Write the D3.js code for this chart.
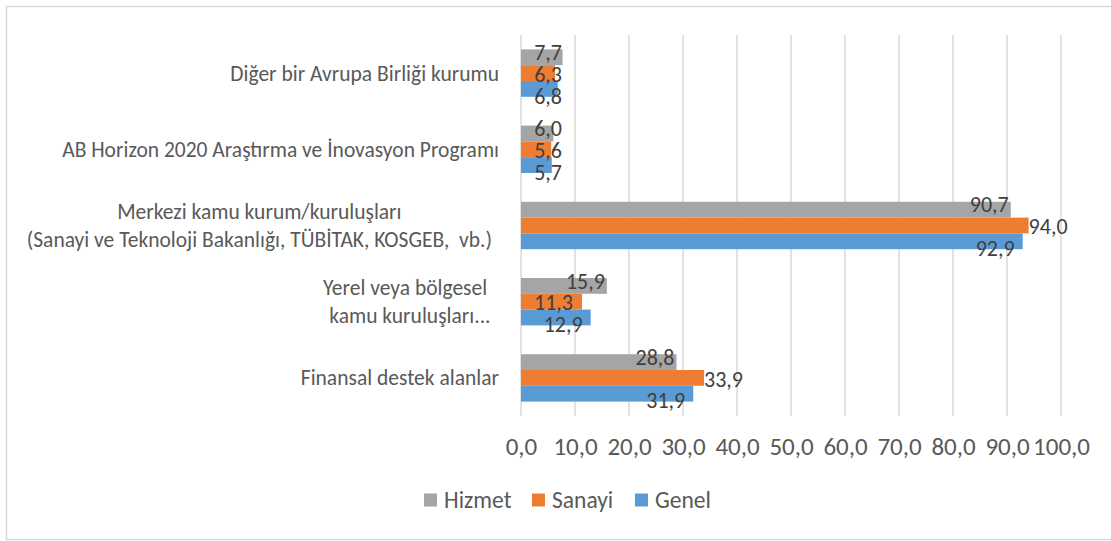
<!DOCTYPE html>
<html>
<head>
<meta charset="utf-8">
<script src="https://cdn.jsdelivr.net/npm/d3@7"></script>
<style>
  body { margin: 0; background: #fff; }
  svg { display: block; font-family: Calibri, Carlito, "Open Sans", sans-serif; }
</style>
</head>
<body>
<svg id="chart" width="1111" height="541"></svg>
<script>
// categories, top to bottom
var categories = [
  ["Diğer bir Avrupa Birliği kurumu"],
  ["AB Horizon 2020 Araştırma ve İnovasyon Programı"],
  ["Merkezi kamu kurum/kuruluşları", "(Sanayi ve Teknoloji Bakanlığı, TÜBİTAK, KOSGEB,  vb.)"],
  ["Yerel veya bölgesel ", " kamu kuruluşları..."],
  ["Finansal destek alanlar"]
]
var seriesNames = ["Hizmet", "Sanayi", "Genel"]
var hizmet = [7.7, 6.0, 90.7, 15.9, 28.8]
var sanayi = [6.3, 5.6, 94.0, 11.3, 33.9]
var genel  = [6.8, 5.7, 92.9, 12.9, 31.9]
var xTicks = [0, 10, 20, 30, 40, 50, 60, 70, 80, 90, 100]

var colors = {"Hizmet": "#a5a5a5", "Sanayi": "#ed7d31", "Genel": "#5b9bd5"}
var values = {"Hizmet": hizmet, "Sanayi": sanayi, "Genel": genel}

var svg = d3.select("#chart")
var fmt = function(v) { return d3.format(".1f")(v).replace(".", ",") }

// outer frame
svg.append("rect")
  .attr("x", 6.5).attr("y", 6.5)
  .attr("width", 1110).attr("height", 533)
  .attr("fill", "none").attr("stroke", "#d9d9d9").attr("stroke-width", 1.5)

var x = d3.scaleLinear().domain([0, 100]).range([521, 1061])
var y = d3.scaleBand().domain(d3.range(categories.length)).range([35, 416])
var yInner = d3.scaleBand().domain(seriesNames).range([0, 47.4])

// grid lines
svg.append("g")
  .selectAll("line").data(xTicks).join("line")
  .attr("x1", function(d) { return x(d) }).attr("x2", function(d) { return x(d) })
  .attr("y1", 35).attr("y2", 416)
  .attr("stroke", "#d9d9d9").attr("stroke-width", 1.5)

// tick labels
var xAxis = svg.append("g")
  .attr("transform", "translate(0,446)")
  .call(d3.axisBottom(x).tickValues(xTicks).tickFormat(fmt).tickSize(0).tickPadding(0))
xAxis.select(".domain").remove()
xAxis.selectAll("text")
  .attr("dy", "0.35em")
  .attr("font-family", "Calibri, Carlito, 'Open Sans', sans-serif")
  .attr("font-size", 25).attr("fill", "#595959")

// bars
var groups = svg.append("g").selectAll("g").data(categories).join("g")
  .attr("transform", function(d, i) { return "translate(0," + (y(i) + y.bandwidth() / 2 - yInner.range()[1] / 2) + ")" })

seriesNames.forEach(function(s) {
  groups.append("rect")
    .attr("x", x(0))
    .attr("y", yInner(s))
    .attr("height", yInner.bandwidth())
    .attr("width", function(d, i) { return x(values[s][i]) - x(0) })
    .attr("fill", colors[s])
})

// data labels
var labelDy = {"Hizmet": -5, "Sanayi": 1, "Genel": 7}
seriesNames.forEach(function(s) {
  groups.append("text")
    .attr("font-size", 22).attr("fill", "#404040")
    .attr("y", yInner(s) + yInner.bandwidth() / 2 + labelDy[s])
    .attr("dy", "0.35em")
    .each(function(d, i) {
      var v = values[s][i]
      var t = d3.select(this).text(fmt(v))
      if (s == "Sanayi" && v > 20) {
        t.attr("text-anchor", "start").attr("x", x(v))
      } else {
        var off = s == "Hizmet" ? -2 : (s == "Sanayi" ? -9 : -8)
        t.attr("text-anchor", "end").attr("x", Math.max(x(v) + off, 562))
      }
    })
})

// category labels
svg.append("g").selectAll("text").data(categories).join("text")
  .attr("font-size", 21.5).attr("fill", "#595959")
  .attr("text-anchor", "middle")
  .style("white-space", "pre")
  .each(function(lines, i) {
    var t = d3.select(this)
    var cy = y(i) + y.bandwidth() / 2
    var lh = 27.5
    lines.forEach(function(line, k) {
      t.append("tspan").text(line)
        .attr("y", cy + (k - (lines.length - 1) / 2) * lh)
        .attr("dy", "0.35em")
    })
    // measure block width, then right-align block, center lines inside it
    var w = d3.max(t.selectAll("tspan").nodes(), function(n) { return n.getComputedTextLength() })
    var right = lines.length > 1 ? 492 : 499
    t.selectAll("tspan").attr("x", right - w / 2)
  })

// legend
var legend = svg.append("g").attr("transform", "translate(424,500)")
var lx = [0, 108, 211]
seriesNames.forEach(function(s, i) {
  var g = legend.append("g").attr("transform", "translate(" + lx[i] + ",0)")
  g.append("rect").attr("x", 0).attr("y", -6.5).attr("width", 13).attr("height", 13).attr("fill", colors[s])
  g.append("text").attr("x", 20).attr("dy", "0.35em")
    .attr("font-size", 23.5).attr("fill", "#595959").text(s)
})
</script>
</body>
</html>
